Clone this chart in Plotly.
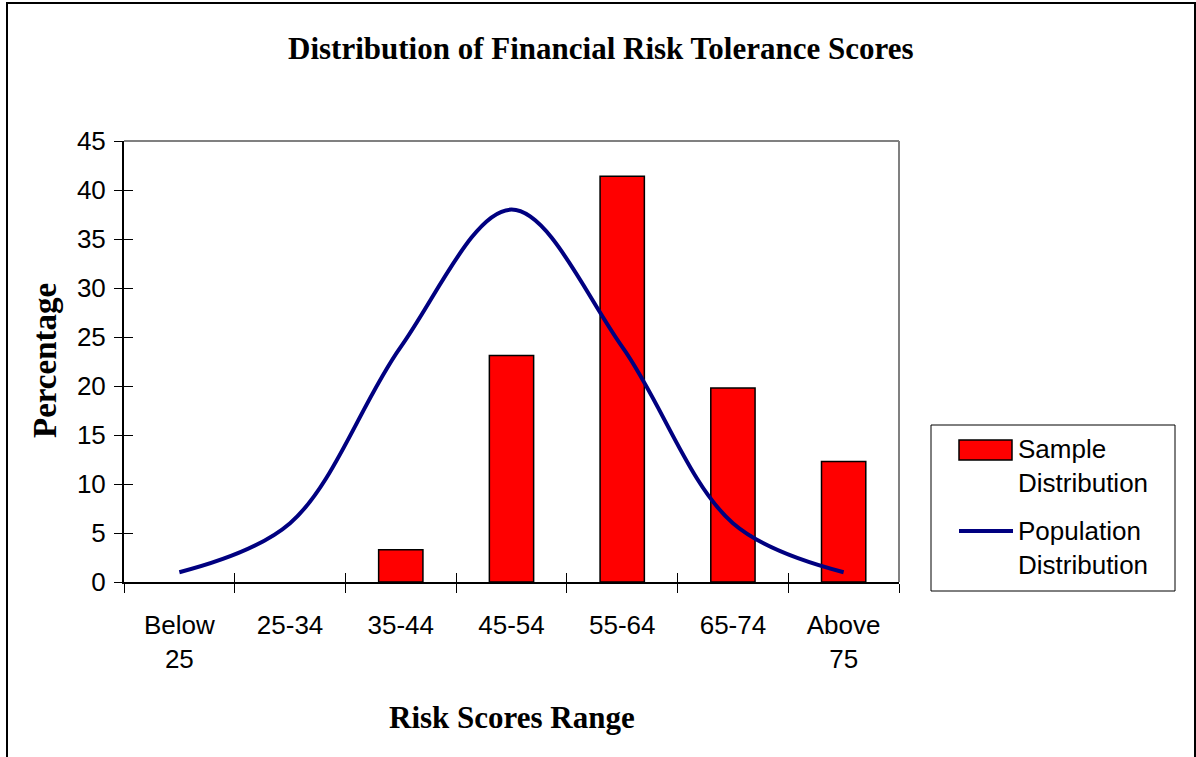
import plotly.graph_objects as go

# Score bands and the two distributions (percent)
categories = ["Below<br>25", "25-34", "35-44", "45-54", "55-64", "65-74", "Above<br>75"]
sample_pct = [0, 0, 3.3, 23.1, 41.4, 19.8, 12.3]
population_pct = [1, 6, 24, 38, 24, 6, 1]

W, H = 1196, 757
L, R, T, B = 124, 899, 141, 582  # plot area in pixels
pw, ph = R - L, B - T

def px(x):
    return (x - L) / pw

def py(y):
    return (B - y) / ph

# no outline on empty bands
bar_outline = [1.5 if v > 0 else 0 for v in sample_pct]

fig = go.Figure()

fig.add_trace(go.Bar(
    x=categories, y=sample_pct, name="Sample Distribution",
    marker=dict(color="#FF0000", line=dict(color="black", width=bar_outline)),
    width=0.4, showlegend=False,
))
fig.add_trace(go.Scatter(
    x=categories, y=population_pct, name="Population Distribution",
    mode="lines", line=dict(color="#000080", width=4, shape="spline", smoothing=1.0),
    showlegend=False,
))
# invisible trace to carry the inner half of the crossing ticks
fig.add_trace(go.Scatter(x=categories, y=[None] * len(categories), xaxis="x2", yaxis="y2",
                         showlegend=False, hoverinfo="skip"))

tick_font = dict(family="Liberation Sans, Arial", size=26, color="black")
serif = "Liberation Serif, Times New Roman"

fig.update_layout(
    width=W, height=H,
    margin=dict(l=L, r=W - R, t=T, b=H - B),
    paper_bgcolor="white", plot_bgcolor="white",
    bargap=0.6,
    xaxis=dict(
        type="category", tickson="boundaries", ticks="outside", ticklen=9,
        tickcolor="black", tickwidth=1, showgrid=False, showline=True,
        linecolor="black", linewidth=2, tickfont=tick_font, range=[-0.5, 6.5],
        tickangle=0, ticklabelstandoff=19,
    ),
    yaxis=dict(
        range=[0, 45], dtick=5, ticks="outside", ticklen=8, tickcolor="black",
        tickwidth=1, showgrid=False, showline=True, linecolor="black", linewidth=2,
        tickfont=tick_font, zeroline=False, ticklabelstandoff=3,
    ),
    xaxis2=dict(
        type="category", overlaying="x", tickson="boundaries", ticks="inside",
        ticklen=9, tickcolor="black", showticklabels=False, showgrid=False,
        showline=False, range=[-0.5, 6.5], side="bottom",
    ),
    yaxis2=dict(
        overlaying="y", range=[0, 45], dtick=5, ticks="inside", ticklen=9,
        tickcolor="black", showticklabels=False, showgrid=False, showline=False,
        zeroline=False, side="left",
    ),
    showlegend=False,
)

shapes = [
    # outer chart frame
    dict(type="rect", xref="paper", yref="paper", x0=px(7), x1=px(1195), y0=py(H + 5), y1=py(3),
         line=dict(color="black", width=2), fillcolor="rgba(0,0,0,0)", layer="below"),
    # gray top and right edges of the plot area
    dict(type="line", xref="paper", yref="paper", x0=0, x1=1, y0=1, y1=1,
         line=dict(color="#808080", width=2)),
    dict(type="line", xref="paper", yref="paper", x0=1, x1=1, y0=0, y1=1,
         line=dict(color="#808080", width=2)),
    # legend box
    dict(type="rect", xref="paper", yref="paper", x0=px(931), x1=px(1175), y0=py(591), y1=py(425),
         line=dict(color="black", width=1), fillcolor="white"),
    dict(type="rect", xref="paper", yref="paper", x0=px(959), x1=px(1012), y0=py(460), y1=py(440),
         line=dict(color="black", width=1.5), fillcolor="#FF0000"),
    dict(type="line", xref="paper", yref="paper", x0=px(959), x1=px(1013), y0=py(531), y1=py(531),
         line=dict(color="#000080", width=4)),
]

annotations = [
    dict(text="<b>Distribution of Financial Risk Tolerance Scores</b>", xref="paper", yref="paper",
         x=px(601), y=py(48), showarrow=False, font=dict(family=serif, size=31, color="black"),
         xanchor="center", yanchor="middle"),
    dict(text="<b>Percentage</b>", xref="paper", yref="paper", x=px(45), y=py(361),
         showarrow=False, font=dict(family=serif, size=33, color="black"), textangle=-90,
         xanchor="center", yanchor="middle"),
    dict(text="<b>Risk Scores Range</b>", xref="paper", yref="paper", x=px(512), y=py(717),
         showarrow=False, font=dict(family=serif, size=31, color="black"),
         xanchor="center", yanchor="middle"),
    dict(text="Sample<br>Distribution", xref="paper", yref="paper", x=px(1016), y=py(466),
         showarrow=False, font=tick_font, xanchor="left", yanchor="middle", align="left"),
    dict(text="Population<br>Distribution", xref="paper", yref="paper", x=px(1016), y=py(548),
         showarrow=False, font=tick_font, xanchor="left", yanchor="middle", align="left"),
]

fig.update_layout(shapes=shapes, annotations=annotations)

fig.write_html("out.html")
